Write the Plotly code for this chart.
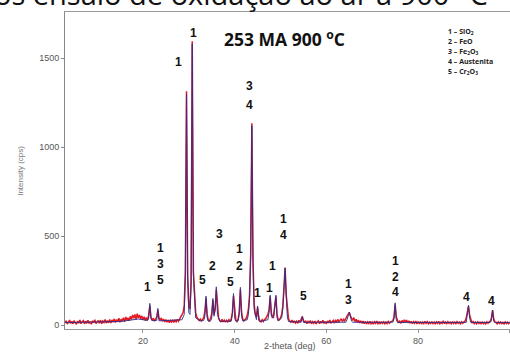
import plotly.graph_objects as go

# ---------------- data ----------------
# observed pattern (red), regular 2-theta grid
obs_start = 3.0
obs_step = 0.25
obs_counts = [
    14, 24, 6, 20, 28, 9, 21, 7, 26, 13, 5, 23, 11, 29, 8, 19, 25, 7, 22, 10,
    27, 9, 20, 5, 24, 14, 30, 8, 21, 26, 10, 28, 7, 23, 15, 31, 11, 25, 13, 32,
    12, 29, 17, 35, 14, 31, 20, 38, 16, 33, 23, 42, 19, 46, 28, 40, 24, 50, 31, 57,
    38, 60, 33, 64, 40, 57, 36, 52, 30, 47, 26, 42, 28, 55, 110, 45, 26, 38, 22, 35,
    45, 85, 40, 28, 40, 22, 34, 18, 31, 16, 28, 13, 26, 17, 30, 15, 27, 18, 32, 22,
    35, 42, 55, 70, 110, 300, 1315, 280, 110, 90, 240, 1596, 300, 140, 70, 45, 35, 26, 34, 23,
    32, 40, 75, 150, 60, 28, 23, 38, 65, 140, 60, 90, 200, 85, 40, 26, 20, 32, 18, 28,
    16, 27, 18, 30, 20, 35, 70, 165, 70, 30, 20, 32, 75, 200, 75, 35, 23, 32, 38, 55,
    90, 170, 400, 1135, 360, 120, 60, 45, 100, 45, 23, 18, 30, 20, 32, 35, 45, 60, 85, 160,
    70, 40, 55, 105, 160, 60, 28, 30, 40, 60, 105, 210, 324, 170, 70, 35, 22, 16, 28, 13,
    24, 12, 22, 10, 27, 16, 32, 48, 28, 14, 24, 8, 20, 11, 26, 7, 19, 10, 23, 6,
    18, 24, 8, 21, 11, 27, 9, 20, 7, 23, 12, 28, 10, 21, 26, 11, 30, 14, 32, 18,
    27, 36, 20, 32, 24, 40, 50, 60, 72, 52, 36, 26, 42, 20, 32, 16, 28, 12, 24, 10,
    22, 8, 20, 6, 18, 9, 21, 7, 16, 5, 19, 10, 22, 8, 17, 6, 20, 9, 18, 7,
    17, 8, 20, 10, 18, 20, 24, 45, 115, 45, 22, 12, 22, 10, 26, 14, 30, 16, 28, 13,
    24, 11, 21, 8, 19, 10, 22, 7, 18, 9, 20, 6, 17, 8, 21, 10, 19, 7, 16, 9,
    20, 8, 17, 6, 18, 10, 21, 7, 16, 9, 24, 8, 17, 6, 19, 10, 16, 7, 20, 9,
    17, 8, 19, 10, 16, 7, 18, 10, 18, 22, 40, 65, 105, 55, 24, 12, 20, 8, 17, 7,
    18, 9, 16, 6, 19, 8, 15, 7, 18, 10, 18, 22, 40, 84, 35, 18, 16, 7, 18, 9,
    17, 8, 15, 7, 18, 9, 16, 8, 17,
]
obs_theta = [obs_start + i * obs_step for i in range(len(obs_counts))]

# calculated profile (blue)
calc_theta = [
    3, 15, 19, 21.0, 21.25, 21.5, 21.75, 22.0, 23.0, 23.25, 23.5, 28.5, 29.0, 29.25,
    29.5, 29.75, 30.0, 30.25, 30.5, 30.75, 31.0, 31.25, 31.5, 32.5, 33.25, 33.5, 33.75,
    34.0, 34.25, 34.75, 35.0, 35.25, 35.5, 35.75, 36.0, 36.25, 36.75, 37.0, 39.25, 39.5,
    39.75, 40.0, 40.25, 40.75, 41.0, 41.25, 41.5, 41.75, 42.75, 43.0, 43.25, 43.5, 43.75,
    44.0, 44.25, 44.75, 45.0, 45.25, 45.5, 47.25, 47.5, 47.75, 48.0, 48.5, 48.75, 49.0,
    49.25, 49.5, 50.25, 50.5, 50.75, 51.0, 51.25, 51.5, 51.75, 54.5, 54.75, 55.0, 64.25,
    64.5, 65.0, 65.5, 65.75, 74.5, 74.75, 75.0, 75.25, 75.5, 90.5, 90.75, 91.0, 91.25,
    91.5, 95.75, 96.0, 96.25, 96.5, 96.75, 100,
]
calc_counts = [
    14, 20, 34, 26, 40, 122, 35, 26, 26, 94, 24, 30, 60, 280,
    1300, 260, 70, 60, 230, 1580, 280, 130, 40, 24, 26, 50, 163,
    40, 22, 24, 40, 150, 50, 90, 215, 60, 22, 20, 22, 60,
    178, 40, 22, 24, 60, 212, 50, 24, 30, 60, 150, 400, 1120,
    350, 90, 30, 107, 25, 20, 30, 70, 168, 50, 40, 100, 168,
    40, 24, 40, 90, 200, 320, 160, 45, 20, 16, 48, 16, 16,
    30, 72, 22, 16, 16, 35, 125, 30, 15, 15, 55, 112, 40,
    15, 15, 25, 84, 22, 14, 14,
]

# phase labels over peaks: (text, 2-theta, intensity)
peak_labels = [
    ("1", 27.65, 1478), ("1", 30.92, 1640),
    ("3", 43.13, 1343), ("4", 43.13, 1236),
    ("1", 21.1, 215),
    ("1", 23.72, 431), ("3", 23.72, 341), ("5", 23.72, 253),
    ("5", 33.03, 253), ("2", 35.06, 331), ("3", 36.65, 510),
    ("1", 40.95, 425), ("2", 40.95, 331), ("5", 38.99, 243),
    ("1", 45.03, 178), ("1", 47.49, 210), ("1", 48.3, 331),
    ("1", 50.61, 594), ("4", 50.61, 506), ("5", 55.06, 163),
    ("1", 64.79, 230), ("3", 64.79, 140),
    ("1", 74.97, 361), ("2", 74.97, 271), ("4", 74.97, 187),
    ("4", 90.46, 159), ("4", 96.06, 137),
]

legend_lines = [
    "1 – SiO<sub>2</sub>",
    "2 – FeO",
    "3 – Fe<sub>2</sub>O<sub>3</sub>",
    "4 – Austenita",
    "5 – Cr<sub>2</sub>O<sub>3</sub>",
]
legend_y = [1652, 1596, 1539, 1483, 1427]

x_ticks = [20, 40, 60, 80, 100]
y_ticks = [0, 500, 1000, 1500]

# ---------------- figure ----------------
fig = go.Figure()
fig.add_trace(go.Scatter(x=obs_theta, y=obs_counts, mode="lines",
                         line=dict(color="#e01b24", width=1.5),
                         showlegend=False, hoverinfo="skip"))
fig.add_trace(go.Scatter(x=calc_theta, y=calc_counts, mode="lines",
                         line=dict(color="#2d2d8c", width=1.0),
                         opacity=0.9,
                         showlegend=False, hoverinfo="skip"))

ann = []
for t, x, y in peak_labels:
    ann.append(dict(x=x, y=y, xref="x", yref="y", text="<b>%s</b>" % t,
                    showarrow=False, font=dict(family="Liberation Sans", size=12, color="#111")))

for t, y in zip(legend_lines, legend_y):
    ann.append(dict(x=86.1, y=y, xref="x", yref="y", text="<b>%s</b>" % t,
                    xanchor="left", showarrow=False,
                    font=dict(family="Open Sans", size=7, color="#222")))

ann.append(dict(x=50.8, y=1612, xref="x", yref="y",
                text="<b>253 MA 900 <sup>o</sup>C</b>", showarrow=False,
                font=dict(family="Open Sans", size=17.5, color="#111")))

ann.append(dict(x=-0.115, y=0.5, xref="paper", yref="paper", text="Intensity (cps)",
                textangle=-90, showarrow=False,
                font=dict(family="Liberation Sans", size=8, color="#777")))
ann.append(dict(x=0.506, y=-0.0757, xref="paper", yref="paper", text="2-theta (deg)",
                showarrow=False, font=dict(family="Liberation Sans", size=9, color="#555")))
# clipped caption line at the very top of the picture
ann.append(dict(x=-0.165, y=1.0, xref="paper", yref="paper", xanchor="left", yanchor="bottom",
                yshift=-3, text="os ensaio de oxidação ao ar a 900 °C", showarrow=False,
                font=dict(family="Open Sans", size=29, color="#111")))

fig.update_layout(
    width=510, height=358,
    margin=dict(l=65, r=0, t=12, b=29),
    paper_bgcolor="white", plot_bgcolor="white",
    annotations=ann,
    xaxis=dict(range=[3, 100.05], tickvals=x_ticks, ticks="outside", ticklen=3,
               tickcolor="#999", showline=True, linecolor="#999", linewidth=1, mirror=True,
               showgrid=False, zeroline=False,
               tickfont=dict(family="Liberation Sans", size=9, color="#555")),
    yaxis=dict(range=[-22, 1760], tickvals=y_ticks, ticks="outside", ticklen=3,
               tickcolor="#888", showline=True, linecolor="#888", linewidth=1,
               showgrid=False, zeroline=False,
               tickfont=dict(family="Liberation Sans", size=9, color="#555")),
)

fig.write_html("out.html")
